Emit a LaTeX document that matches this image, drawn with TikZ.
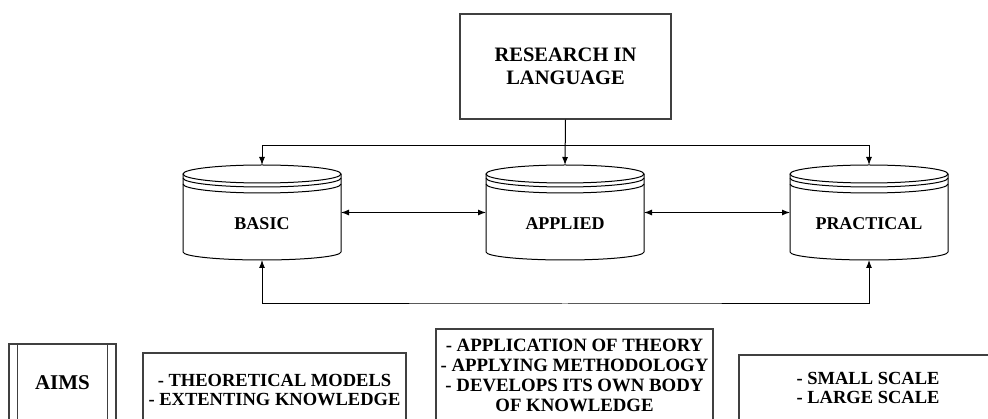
\documentclass[tikz,border=0pt]{standalone}
\usepackage{fontspec}
\setmainfont{Liberation Serif}
\usetikzlibrary{arrows.meta,positioning}

\tikzset{
  box/.style={draw=black!75, line width=1.1pt, inner sep=2pt, align=center,
    font=\bfseries\fontsize{18.5}{19}\selectfont},
  drumbox/.style={minimum width=158pt, minimum height=95pt, inner sep=0pt, outer sep=0pt},
  drumtext/.style={font=\bfseries\fontsize{18}{20}\selectfont},
  conn/.style={line width=1pt, -{Latex[length=8pt,width=6pt]}},
  dconn/.style={line width=1pt, {Latex[length=8pt,width=6pt]}-{Latex[length=8pt,width=6pt]}},
}

% drum shape drawn round a named node
\newcommand{\drum}[1]{%
  \draw[line width=1pt] ([yshift=-9pt]#1.north west) -- ([yshift=8pt]#1.south west)
    arc[start angle=180,end angle=360,x radius=79pt,y radius=8pt] -- ([yshift=-9pt]#1.north east);
  \draw[line width=1pt] ([yshift=-9pt]#1.north) ellipse[x radius=79pt,y radius=9pt];
  \draw[line width=1pt] ([yshift=-13pt]#1.north west) arc[start angle=180,end angle=360,x radius=79pt,y radius=9pt];
  \draw[line width=1pt] ([yshift=-19pt]#1.north west) arc[start angle=180,end angle=360,x radius=79pt,y radius=9pt];
}

\begin{document}
\begin{tikzpicture}[x=1pt,y=-1pt]
\useasboundingbox (0,0) rectangle (988,419);
\clip (0,0) rectangle (988,419);

% top
\node[box, minimum width=211pt, minimum height=105pt, font=\bfseries\fontsize{20.5}{23.5}\selectfont]
  (research) at (565.5,66.5) {RESEARCH IN\\LANGUAGE};

% drums
\node[drumbox] (basic) at (262,212.5) {};
\node[drumbox] (applied) at (565,212.5) {};
\node[drumbox] (practical) at (869,212.5) {};
\drum{basic}
\drum{applied}
\drum{practical}
\node[drumtext] (basictxt) at ([yshift=-11.5pt]basic.center) {BASIC};
\node[drumtext] (appliedtxt) at ([yshift=-11.5pt]applied.center) {APPLIED};
\node[drumtext] (practicaltxt) at ([yshift=-11.5pt]practical.center) {PRACTICAL};

% connectors
\coordinate (split) at (565,146);
\coordinate (loop) at (565,304);
\draw[conn] (research.south) -- (applied.north);
\draw[conn] (split) -| (basic.north);
\draw[conn] (split) -| (practical.north);
\draw[dconn] (basic.east) -- (applied.west);
\draw[dconn] (applied.east) -- (practical.west);
\draw[dconn] (basic.south) |- (loop) -| (practical.south);

% bottom row
\node[box, minimum width=107pt, minimum height=78pt, font=\bfseries\fontsize{21}{23}\selectfont]
  (aims) at (62.5,383) {AIMS};
\draw[draw=black!75, line width=1.1pt] ([xshift=9pt]aims.north west) -- ([xshift=9pt]aims.south west);
\draw[draw=black!75, line width=1.1pt] ([xshift=-9pt]aims.north east) -- ([xshift=-9pt]aims.south east);
\node[box, minimum width=263pt, minimum height=74pt] (theory) at (274.5,390)
  {- THEORETICAL MODELS\\- EXTENTING KNOWLEDGE};
\node[box, minimum width=277pt, minimum height=92pt, font=\bfseries\fontsize{18.8}{20}\selectfont]
  (method) at (574.5,375)
  {- APPLICATION OF THEORY\\- APPLYING METHODOLOGY\\- DEVELOPS ITS OWN BODY\\OF KNOWLEDGE};
\node[box, minimum width=258pt, minimum height=66pt] (scale) at (868,388)
  {- SMALL SCALE\\- LARGE SCALE};
\end{tikzpicture}
\end{document}
